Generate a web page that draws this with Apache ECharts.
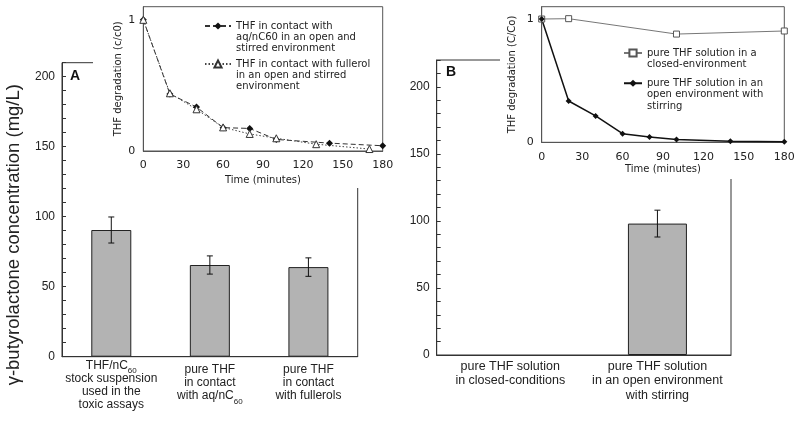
<!DOCTYPE html>
<html>
<head>
<meta charset="utf-8">
<script src="https://cdn.jsdelivr.net/npm/echarts@6/dist/echarts.min.js"></script>
<style>html,body{margin:0;padding:0;background:#fff}#c{width:800px;height:427px}</style>
</head>
<body>
<div id="c"></div>
<script>
// ---- Data ----
const catsA = ['THF/nC60\nstock suspension\nused in the\ntoxic assays', 'pure THF\nin contact\nwith aq/nC60', 'pure THF\nin contact\nwith fullerols'];
const valsA = [90.5, 65.5, 64];
const errA = [9.3, 6.5, 6.6];
const catsB = ['pure THF solution\nin closed-conditions', 'pure THF solution\nin an open environment\nwith stirring'];
const valsB = [0, 98];
const errB = [0, 10];

const timeA1 = [0, 20, 40, 60, 80, 100, 140, 180];
const degA1 = [1, 0.435, 0.335, 0.178, 0.172, 0.088, 0.06, 0.04];
const timeA2 = [0, 20, 40, 60, 80, 100, 130, 170];
const degA2 = [1, 0.44, 0.318, 0.18, 0.13, 0.097, 0.052, 0.015];
const timeB1 = [0, 20, 100, 180];
const degB1 = [1, 1.003, 0.878, 0.903];
const timeB2 = [0, 20, 40, 60, 80, 100, 140, 180];
const degB2 = [1, 0.335, 0.214, 0.07, 0.043, 0.022, 0.008, 0.005];

const nameA1 = 'THF in contact with\naq/nC60 in an open and\nstirred environment';
const nameA2 = 'THF in contact with fullerol\nin an open and stirred\nenvironment';
const nameB1 = 'pure THF solution in a\nclosed-environment';
const nameB2 = 'pure THF solution in an\nopen environment with\nstirring';

const yTitle = 'γ-butyrolactone concentration (mg/L)';
const insetYA = 'THF degradation (c/c0)';
const insetYB = 'THF degradation (C/Co)';
const insetX = 'Time (minutes)';

// ---- Helpers ----
const MAIN_FONT = 'Liberation Sans';
const INSET_FONT = 'DejaVu Sans';
const pair = (xs, ys) => xs.map((x, i) => [x, ys[i]]);
const subFmt = v => v.replace(/C60/g, 'C{sub|60}');

function errSeries(xi, yi, vals, errs) {
  return {
    type: 'custom', xAxisIndex: xi, yAxisIndex: yi, z: 3,
    data: vals.map((v, i) => [i, v - errs[i], v + errs[i]]),
    encode: { x: 0, y: [1, 2] },
    renderItem: function (params, api) {
      if (api.value(2) === api.value(1)) return null;
      const lo = api.coord([api.value(0), api.value(1)]);
      const hi = api.coord([api.value(0), api.value(2)]);
      const w = 3, st = { stroke: '#111', lineWidth: 1 };
      return { type: 'group', children: [
        { type: 'line', shape: { x1: hi[0], y1: hi[1], x2: lo[0], y2: lo[1] }, style: st },
        { type: 'line', shape: { x1: hi[0] - w, y1: hi[1], x2: hi[0] + w, y2: hi[1] }, style: st },
        { type: 'line', shape: { x1: lo[0] - w, y1: lo[1], x2: lo[0] + w, y2: lo[1] }, style: st }
      ]};
    }
  };
}

const subRich = { sub: { fontSize: 8, lineHeight: 10, padding: [12, 0, 0, 0], fontFamily: MAIN_FONT, color: '#222' } };

function mainY(max, name) {
  return {
    type: 'value', min: 0, max: max, interval: 10,
    axisLine: { show: true, lineStyle: { color: '#333' } },
    axisTick: { show: true, inside: true, length: 4, lineStyle: { color: '#333' } },
    splitLine: { show: false },
    axisLabel: { formatter: v => (v % 50 === 0 ? String(v) : ''), fontFamily: MAIN_FONT, fontSize: 12, color: '#222', margin: 7 },
    name: name || '', nameLocation: 'middle', nameGap: 39, nameRotate: 90,
    nameTextStyle: { fontFamily: MAIN_FONT, fontSize: 18.5, color: '#222', padding: [0, 50, 0, 0] }
  };
}

function insetX_(gi, margin, gap) {
  return {
    type: 'value', gridIndex: gi, min: 0, max: 180, interval: 30, z: 5,
    axisLine: { show: true, lineStyle: { color: '#555' } },
    axisTick: { show: false }, splitLine: { show: false },
    axisLabel: { fontFamily: INSET_FONT, fontSize: 11, color: '#222', margin: margin },
    name: insetX, nameLocation: 'middle', nameGap: gap,
    nameTextStyle: { fontFamily: INSET_FONT, fontSize: 10, color: '#222' }
  };
}
function insetY_(gi, name, gap) {
  return {
    type: 'value', gridIndex: gi, min: 0, max: 1.1, interval: 1, z: 5,
    axisLine: { show: true, lineStyle: { color: '#555' } },
    axisTick: { show: false }, splitLine: { show: false },
    axisLabel: { fontFamily: INSET_FONT, fontSize: 11, color: '#222', margin: 8, showMaxLabel: false,
      formatter: v => (v === 0 || v === 1 ? String(v) : '') },
    name: name, nameLocation: 'middle', nameGap: gap, nameRotate: 90,
    nameTextStyle: { fontFamily: INSET_FONT, fontSize: 10, color: '#222' }
  };
}
// Leading blank lines keep the legend icon level with the first text line.
function legend_(name, left, top, lh, iw) {
  return {
    data: [name], left: left, top: top, orient: 'vertical', padding: 0, itemGap: 0,
    itemWidth: iw, itemHeight: 9, selectedMode: false, z: 10,
    formatter: n => '\n'.repeat(n.split('\n').length - 1) + n,
    textStyle: { fontFamily: INSET_FONT, fontSize: 10, lineHeight: lh, color: '#222' }
  };
}

const chart = echarts.init(document.getElementById('c'), null, { renderer: 'canvas' });
chart.setOption({
  animation: false,
  backgroundColor: '#fff',
  grid: [
    { left: 62, top: 62.7, width: 295.7, height: 294, show: true, borderColor: '#333', borderWidth: 1, backgroundColor: 'transparent' },
    { left: 436.7, top: 60, width: 294.3, height: 295, show: true, borderColor: '#333', borderWidth: 1, backgroundColor: 'transparent' },
    { left: 143.3, top: 6.7, width: 239.4, height: 144.3, show: true, borderColor: '#555', borderWidth: 1, backgroundColor: '#fff', z: 4 },
    { left: 541.7, top: 6.7, width: 242.6, height: 135.6, show: true, borderColor: '#555', borderWidth: 1, backgroundColor: '#fff', z: 4 }
  ],
  xAxis: [
    { type: 'category', gridIndex: 0,
      data: catsA.map((c, i) => (i === 0 ? c : { value: c, textStyle: { padding: [4.5, 0, 0, 0] } })),
      axisLine: { lineStyle: { color: '#333' } },
      axisTick: { inside: true, length: 5, lineStyle: { color: '#333' } },
      axisLabel: { interval: 0, formatter: subFmt, rich: subRich, fontFamily: MAIN_FONT, fontSize: 12, lineHeight: 13, color: '#222', margin: 2 } },
    { type: 'category', gridIndex: 1, data: catsB,
      axisLine: { lineStyle: { color: '#333' } },
      axisTick: { inside: true, length: 5, lineStyle: { color: '#333' } },
      axisLabel: { interval: 0, fontFamily: MAIN_FONT, fontSize: 12.5, lineHeight: 14.5, color: '#222', margin: 4 } },
    insetX_(2, 9, 24),
    insetX_(3, 9, 22)
  ],
  yAxis: [
    Object.assign(mainY(210, yTitle), { gridIndex: 0 }),
    Object.assign(mainY(220, ''), { gridIndex: 1 }),
    insetY_(2, insetYA, 20),
    insetY_(3, insetYB, 24)
  ],
  legend: [
    legend_(nameA1, 204, -1.5, 11, 26),
    legend_(nameA2, 204, 36.5, 11, 26),
    legend_(nameB1, 623, 36.5, 11, 18),
    legend_(nameB2, 623, 54.5, 11.5, 18)
  ],
  graphic: [
    { type: 'rect', shape: { x: 93, y: 0, width: 302, height: 188 }, style: { fill: '#fff' }, z: 3, silent: true },
    { type: 'rect', shape: { x: 500, y: 0, width: 300, height: 179 }, style: { fill: '#fff' }, z: 3, silent: true },
    { type: 'text', x: 70, y: 69, style: { text: 'A', font: 'bold 14px "Liberation Sans"', fill: '#111' }, z: 3 },
    { type: 'text', x: 446, y: 65, style: { text: 'B', font: 'bold 14px "Liberation Sans"', fill: '#111' }, z: 3 }
  ],
  series: [
    { type: 'bar', xAxisIndex: 0, yAxisIndex: 0, data: valsA, barWidth: 40,
      itemStyle: { color: '#b3b3b3', borderColor: '#222', borderWidth: 1 } },
    errSeries(0, 0, valsA, errA),
    { type: 'bar', xAxisIndex: 1, yAxisIndex: 1, data: valsB.map(v => (v === 0 ? '-' : v)), barWidth: 59,
      itemStyle: { color: '#b3b3b3', borderColor: '#222', borderWidth: 1 } },
    errSeries(1, 1, valsB, errB),
    { name: nameA1, type: 'line', xAxisIndex: 2, yAxisIndex: 2, z: 6, data: pair(timeA1, degA1),
      symbol: 'diamond', symbolSize: 7, itemStyle: { color: '#111' },
      lineStyle: { color: '#333', width: 1, type: [5, 3] } },
    { name: nameA2, type: 'line', xAxisIndex: 2, yAxisIndex: 2, z: 6, data: pair(timeA2, degA2),
      symbol: 'triangle', symbolSize: 7, itemStyle: { color: '#fff', borderColor: '#333', borderWidth: 1 },
      lineStyle: { color: '#444', width: 1, type: [1.5, 2] } },
    { name: nameB1, type: 'line', xAxisIndex: 3, yAxisIndex: 3, z: 6, data: pair(timeB1, degB1),
      symbol: 'rect', symbolSize: 6, itemStyle: { color: '#fff', borderColor: '#555', borderWidth: 1 },
      lineStyle: { color: '#777', width: 1 } },
    { name: nameB2, type: 'line', xAxisIndex: 3, yAxisIndex: 3, z: 6, data: pair(timeB2, degB2),
      symbol: 'diamond', symbolSize: 6, itemStyle: { color: '#111' },
      lineStyle: { color: '#111', width: 1.5 } }
  ]
});
</script>
</body>
</html>
